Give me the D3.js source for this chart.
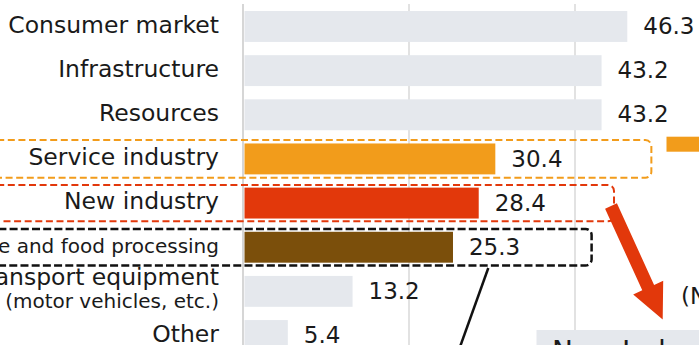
<!DOCTYPE html>
<html>
<head>
<meta charset="utf-8">
<script src="https://cdn.jsdelivr.net/npm/d3@7"></script>
<style>
  html, body { margin: 0; padding: 0; background: #fff; overflow: hidden; }
  svg { display: block; }
  text { font-family: "DejaVu Sans", Verdana, sans-serif; fill: #1a1a1a; }
</style>
</head>
<body>
<svg id="chart" width="699" height="345"></svg>
<script>
// ---- data ----
const categories = [
  "Consumer market",
  "Infrastructure",
  "Resources",
  "Service industry",
  "New industry",
  "Beverage and food processing",
  "Transport equipment\n(motor vehicles, etc.)",
  "Other"
];
const values = [46.3, 43.2, 43.2, 30.4, 28.4, 25.3, 13.2, 5.4];
const gridTicks = [20, 40];
const calloutLabel = "New Industry";
const noteLabel = "(Number of companies)";

// ---- setup ----
const W = 699, H = 345;
const svg = d3.select("#chart");
const x = d3.scaleLinear().domain([0, 40]).range([243, 575]);
const y = d3.scaleBand().domain(categories).range([4.4, 357.6]).paddingInner(0.3).paddingOuter(0.15);
const bw = y.bandwidth();

const color = d3.scaleOrdinal()
  .domain(["Service industry", "New industry", "Beverage and food processing"])
  .range(["#f29c1b", "#e2380b", "#7b4f0b"])
  .unknown("#e5e8ed");

const data = categories.map((c, i) => ({ c, v: values[i] }));

// gridlines
svg.append("g").selectAll("line").data(gridTicks).join("line")
  .attr("x1", d => x(d)).attr("x2", d => x(d))
  .attr("y1", 4).attr("y2", H)
  .attr("stroke", "#d9d9d9").attr("stroke-width", 1.5);

// axis line
svg.append("line")
  .attr("x1", x(0)).attr("x2", x(0)).attr("y1", 4).attr("y2", H)
  .attr("stroke", "#d6d6d6").attr("stroke-width", 2);

// bars
svg.append("g").selectAll("rect").data(data).join("rect")
  .attr("x", x(0) + 1.5)
  .attr("y", d => y(d.c))
  .attr("width", d => x(d.v) - x(0) - 1.5)
  .attr("height", bw)
  .attr("fill", d => color(d.c));

// category labels
const smallCats = new Set(["Beverage and food processing"]);
const lab = svg.append("g").selectAll("text").data(data).join("text")
  .attr("text-anchor", "end")
  .attr("x", x(0) - 24);
lab.each(function(d) {
  const t = d3.select(this);
  const lines = d.c.split("\n");
  const cy = y(d.c) + bw / 2;
  if (lines.length === 1) {
    const fs = smallCats.has(d.c) ? 20 : 23.5;
    t.attr("y", cy).attr("dy", "0.27em").style("font-size", fs + "px").text(lines[0]);
  } else {
    t.append("tspan").attr("x", x(0) - 24).attr("y", cy - 6).style("font-size", "23.5px").text(lines[0]);
    t.append("tspan").attr("x", x(0) - 24).attr("y", cy + 17).style("font-size", "20px").text(lines[1]);
  }
});

// value labels
svg.append("g").selectAll("text").data(data).join("text")
  .attr("x", d => x(d.v) + 16)
  .attr("y", d => y(d.c) + bw / 2)
  .attr("dy", "0.33em")
  .style("font-size", "23px")
  .text(d => d.v.toFixed(1));

// dashed highlight boxes
const boxes = [
  { c: "Service industry", right: 49.2, stroke: "#f29c1b", pad: 3.4, sw: 2, dash: "7,3.6" },
  { c: "New industry", right: 44.7, stroke: "#e2380b", pad: 2.6, sw: 2, dash: "7,3.6" },
  { c: "Beverage and food processing", right: 42.0, stroke: "#111", pad: 2.8, sw: 2.5, dash: "8,3.2" }
];
svg.append("g").selectAll("rect").data(boxes).join("rect")
  .attr("x", -30)
  .attr("y", d => y(d.c) - d.pad)
  .attr("width", d => x(d.right) + 30)
  .attr("height", d => bw + 2 * d.pad)
  .attr("rx", 6).attr("ry", 6)
  .attr("fill", "none")
  .attr("stroke", d => d.stroke)
  .attr("stroke-width", d => d.sw)
  .attr("stroke-dasharray", d => d.dash);

// callout box at bottom right
svg.append("rect")
  .attr("x", 536.5).attr("y", 330).attr("width", 300).attr("height", 60)
  .attr("fill", "#e5e8ed");
svg.append("text")
  .attr("x", 552).attr("y", 361)
  .style("font-size", "28px")
  .text(calloutLabel);

// note text and legend swatch
svg.append("text")
  .attr("x", 681).attr("y", 304)
  .style("font-size", "23px")
  .text(noteLabel);
svg.append("rect")
  .attr("x", 666.5).attr("y", 136.7).attr("width", 60).attr("height", 15)
  .attr("fill", "#f29c1b");

// red arrow
(function() {
  const sx = 611, sy = 206, tx = 662.7, ty = 319.5;
  const headLen = 35, headHalf = 16.5, shaftHalf = 6.5;
  const dx = tx - sx, dy = ty - sy, L = Math.hypot(dx, dy);
  const ux = dx / L, uy = dy / L, nx = -uy, ny = ux;
  const bx = tx - ux * headLen, by = ty - uy * headLen;
  const pts = [
    [sx + nx * shaftHalf, sy + ny * shaftHalf],
    [bx + nx * shaftHalf, by + ny * shaftHalf],
    [bx + nx * headHalf, by + ny * headHalf],
    [tx, ty],
    [bx - nx * headHalf, by - ny * headHalf],
    [bx - nx * shaftHalf, by - ny * shaftHalf],
    [sx - nx * shaftHalf, sy - ny * shaftHalf]
  ];
  svg.append("path").attr("d", d3.line()(pts) + "Z").attr("fill", "#e2380b");
})();

// black connector line
svg.append("line")
  .attr("x1", 488.3).attr("y1", 268).attr("x2", 455.3).attr("y2", 360)
  .attr("stroke", "#111").attr("stroke-width", 2.5);
</script>
</body>
</html>
